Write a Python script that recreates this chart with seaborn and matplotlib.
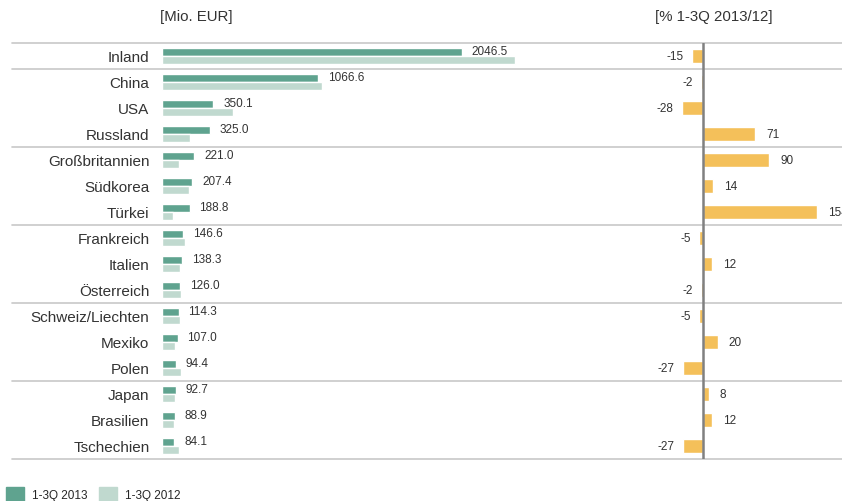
import matplotlib
matplotlib.use("Agg")
import matplotlib.pyplot as plt
from matplotlib.patches import Patch
import seaborn as sns
import pandas as pd

countries = ["Inland", "China", "USA", "Russland", "Großbritannien", "Südkorea", "Türkei",
             "Frankreich", "Italien", "Österreich", "Schweiz/Liechten", "Mexiko", "Polen",
             "Japan", "Brasilien", "Tschechien"]
val_2013 = [2046.5, 1066.6, 350.1, 325.0, 221.0, 207.4, 188.8, 146.6, 138.3, 126.0,
            114.3, 107.0, 94.4, 92.7, 88.9, 84.1]
val_2012 = [2408, 1088, 486, 190, 116, 182, 74, 154, 123, 129, 120, 89, 129, 86, 79, 115]
pct_change = [-15, -2, -28, 71, 90, 14, 154, -5, 12, -2, -5, 20, -27, 8, 12, -27]
series = ["1-3Q 2013", "1-3Q 2012"]
group_ends = [0, 3, 6, 9, 12]  # separator after these rows

dark = "#5fa38f"
light = "#c0d9cf"
orange = "#f4c05a"
txt = "#333333"

sns.set_theme(style="white")
plt.rcParams["font.family"] = ["Liberation Sans", "DejaVu Sans"]

df = pd.DataFrame({
    "country": countries * 2,
    "value": val_2013 + val_2012,
    "series": [series[0]] * len(countries) + [series[1]] * len(countries),
})
pdf = pd.DataFrame({"country": countries, "pct": pct_change})

W, H = 842, 502
fig = plt.figure(figsize=(W / 100, H / 100), dpi=100)
top, bottom = 44, 460
axl = fig.add_axes([162 / W, (H - bottom) / H, (620 - 162) / W, (bottom - top) / H])
axr = fig.add_axes([620 / W, (H - bottom) / H, (842 - 620) / W, (bottom - top) / H])

sns.barplot(data=df, x="value", y="country", hue="series", palette=[dark, light],
            orient="h", width=0.66, gap=0.08, ax=axl, legend=False, saturation=1)
sns.barplot(data=pdf, x="pct", y="country", color=orange, orient="h", width=0.52,
            ax=axr, saturation=1)

axl.set_xlim(0, 3124)
axr.set_xlim(-112, 188)
for ax in (axl, axr):
    ax.set_ylim(len(countries) - 0.5, -0.5)
    ax.set_xlabel("")
    ax.set_ylabel("")
    ax.set_xticks([])
    ax.set_facecolor("none")
    sns.despine(ax=ax, left=True, bottom=True)

axl.tick_params(axis="y", length=0, pad=9, labelsize=11, labelcolor=txt)
axr.set_yticks([])
axr.axvline(0, color="#808080", lw=1.8)

# value labels, left panel
for i, v in enumerate(val_2013):
    axl.annotate(f"{v:.1f}", (v, i - 0.2), xytext=(7, -0.5), textcoords="offset points",
                 ha="left", va="center", fontsize=8.5, color=txt)

# value labels, right panel
for i, p in enumerate(pct_change):
    if p >= 0:
        axr.annotate(f"{p}", (p, i), xytext=(8, 0), textcoords="offset points",
                     ha="left", va="center", fontsize=8.5, color=txt, annotation_clip=False)
    else:
        axr.annotate(f"{p}", (p, i), xytext=(-6, 0), textcoords="offset points",
                     ha="right", va="center", fontsize=8.5, color=txt)

# separators across the whole width
x0 = -(162 - 12) / (620 - 162)
x1 = (842 - 162) / (620 - 162)
for y in [-0.5] + [g + 0.5 for g in group_ends] + [len(countries) - 0.5]:
    axl.axhline(y, xmin=x0, xmax=x1, color="#c8c8c8", lw=1.2, clip_on=False, zorder=0)

fig.text(160 / W, 1 - 17 / H, "[Mio. EUR]", fontsize=10.8, color=txt, va="center", ha="left")
fig.text(655 / W, 1 - 17 / H, "[% 1-3Q 2013/12]", fontsize=10.8, color=txt, va="center", ha="left")

handles = [Patch(color=dark, label=series[0]), Patch(color=light, label=series[1])]
fig.legend(handles=handles, loc="lower left", bbox_to_anchor=(6 / W, 0.0), ncol=2,
           frameon=False, fontsize=8.5, handlelength=1.5, handleheight=1.5,
           columnspacing=1.0, handletextpad=0.7, borderaxespad=0, borderpad=0.0)

fig.savefig("out.png", dpi=100)
